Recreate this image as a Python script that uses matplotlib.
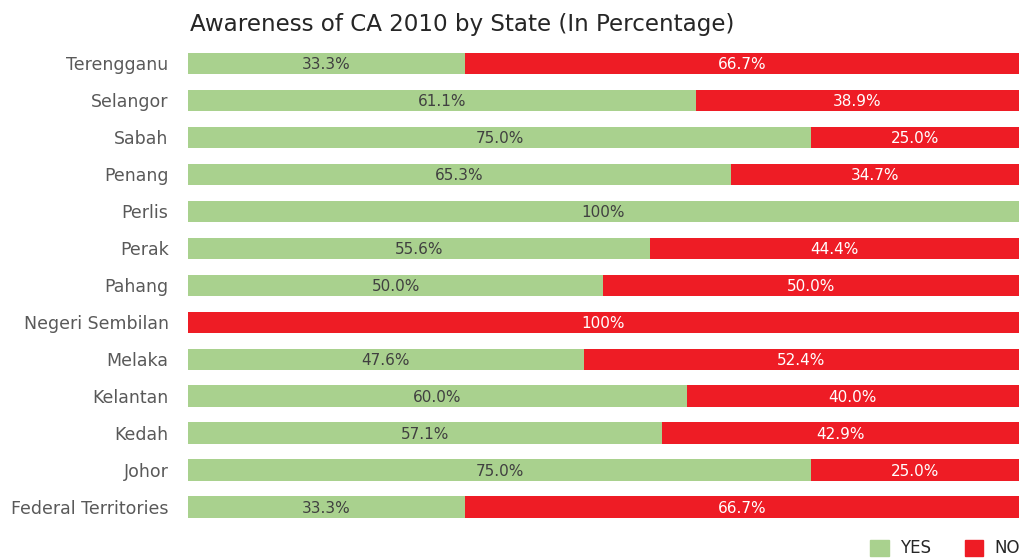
import matplotlib.pyplot as plt
from matplotlib.patches import Patch

states = ["Terengganu", "Selangor", "Sabah", "Penang", "Perlis", "Perak", "Pahang",
          "Negeri Sembilan", "Melaka", "Kelantan", "Kedah", "Johor", "Federal Territories"]
yes = [33.3, 61.1, 75.0, 65.3, 100, 55.6, 50.0, 0, 47.6, 60.0, 57.1, 75.0, 33.3]
no = [66.7, 38.9, 25.0, 34.7, 0, 44.4, 50.0, 100, 52.4, 40.0, 42.9, 25.0, 66.7]

green = "#A9D18E"
red = "#EE1C25"

plt.rcParams['font.family'] = ['DejaVu Sans']

fig = plt.figure(figsize=(10.24, 5.59), dpi=100)
ax = fig.add_axes([0.1836, 0.06, 0.8115, 0.86])

pos = list(range(len(states)))
ax.barh(pos, yes, height=0.57, color=green)
ax.barh(pos, no, left=yes, height=0.57, color=red)

def fmt(v):
    return "100%" if v == 100 else f"{v:.1f}%"

for i in pos:
    if yes[i] > 0:
        ax.text(yes[i] / 2, i + 0.03, fmt(yes[i]), ha='center', va='center', fontsize=11, color="#404040")
    if no[i] > 0:
        ax.text(yes[i] + no[i] / 2, i + 0.03, fmt(no[i]), ha='center', va='center', fontsize=11, color="white")

ax.set_xlim(0, 100)
ax.set_ylim(len(states) - 0.5, -0.5)
ax.set_yticks(pos)
ax.set_yticklabels(states, fontsize=12.5, color="#595959")
ax.set_xticks([])
ax.tick_params(axis='y', length=0, pad=14)
for s in ax.spines.values():
    s.set_visible(False)

ax.set_title("Awareness of CA 2010 by State (In Percentage)", loc='left', fontsize=16.6,
             color="#262626", pad=10, x=0.002)

handles = [Patch(color=green, label="YES"), Patch(color=red, label="NO")]
fig.legend(handles=handles, loc='lower right', bbox_to_anchor=(1.011, -0.024), ncol=2, frameon=False,
           fontsize=12, handlelength=1.1, handleheight=1.1, columnspacing=2.0, handletextpad=0.7,
           labelcolor="#262626")

fig.savefig("out.png", dpi=100)
